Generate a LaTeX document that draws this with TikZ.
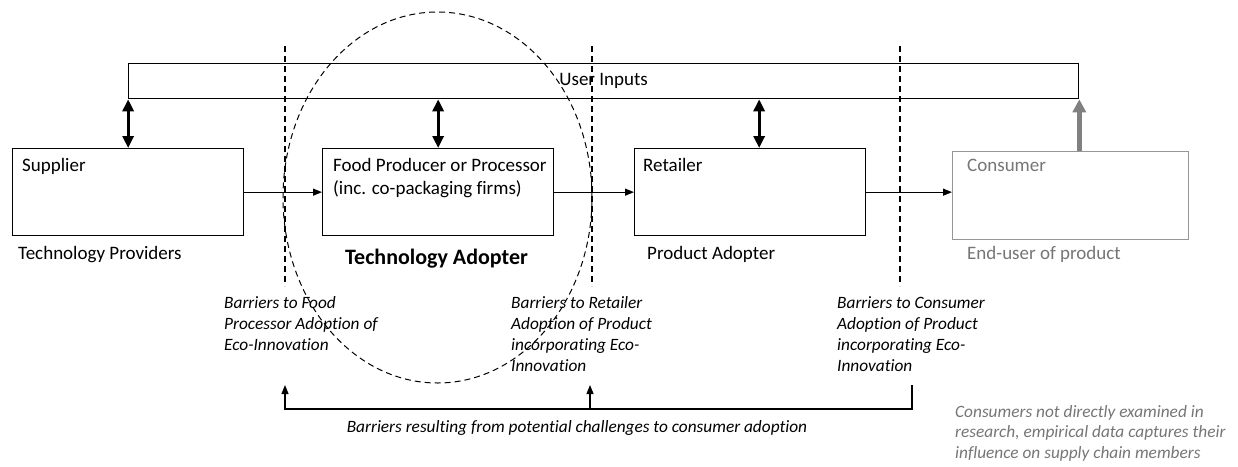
\documentclass[tikz,border=0pt]{standalone}
\usepackage{fontspec}
\setmainfont{Carlito}[Ligatures=NoCommon]
\usetikzlibrary{arrows.meta,shapes.geometric}
\definecolor{txtgray}{RGB}{118,118,118}
\definecolor{boxgray}{RGB}{150,150,150}
\definecolor{arrgray}{RGB}{128,128,128}
\newcommand{\mylines}[1]{\begin{tabular}[t]{@{}l@{}}#1\end{tabular}}
\begin{document}
\begin{tikzpicture}[x=1pt,y=-1pt,
  box/.style={draw, line width=1.3pt, minimum width=231pt, minimum height=87pt, anchor=north west, inner sep=0pt},
  lbl/.style={anchor=base west, inner sep=0pt, font=\fontsize{19}{23}\selectfont},
  barr/.style={anchor=base west, inner sep=0pt, font=\fontsize{17.3}{21.3}\selectfont\itshape},
  flow/.style={line width=1.2pt, -{Triangle[length=9pt,width=7pt]}},
  dbl/.style={line width=3pt, {Triangle[length=12pt,width=11pt]}-{Triangle[length=12pt,width=11pt]}},
  garrow/.style={line width=5pt, draw=arrgray, -{Triangle[length=13pt,width=13pt]}},
  vdash/.style={line width=1.1pt, dash pattern=on 6pt off 4pt},
]
\useasboundingbox[fill=white] (0,0) rectangle (1238,466);

% User inputs bar
\node[draw, line width=1.3pt, minimum width=950pt, minimum height=35pt, anchor=north west, inner sep=0pt,
      font=\fontsize{19}{23}\selectfont] (ui) at (128,63) {User Inputs};

% Boxes
\node[box] (sup) at (12,148) {};
\node[box] (food) at (322,148) {};
\node[box] (ret) at (634,148) {};
\node[box, draw=boxgray, minimum width=236pt, minimum height=88pt] (cons) at (952,151) {};

% Box texts
\node[lbl] (tsup) at (22,171) {Supplier};
\node[lbl] (tfood) at (333,171) {\mylines{Food Producer or Processor\\(inc. co-packaging firms)}};
\node[lbl] (tret) at (643,171) {Retailer};
\node[lbl, text=txtgray] (tcons) at (967,171) {Consumer};

% Role labels
\node[lbl] (rsup) at (18,259) {Technology Providers};
\node[lbl, font=\fontsize{22}{26}\selectfont\bfseries] (rfood) at (345,264) {Technology Adopter};
\node[lbl] (rret) at (647,259) {Product Adopter};
\node[lbl, text=txtgray] (rcons) at (967,259) {End-user of product};

% Flow arrows
\draw[flow] (sup.east) -- (food.west);
\draw[flow] (food.east) -- (ret.west);
\draw[flow] (ret.east |- sup.east) -- (cons.west |- sup.east);

% Double arrows to user inputs
\draw[dbl] (sup.north) -- (sup.north |- ui.south);
\draw[dbl] (food.north) -- (food.north |- ui.south);
\draw[dbl] ([xshift=9pt]ret.north) -- ([xshift=9pt]ret.north |- ui.south);
\draw[garrow] (ui.south east |- cons.north) -- (ui.south east);

% Adoption ellipse
\node[ellipse, draw, vdash, line width=1pt, minimum width=309pt, minimum height=371pt, inner sep=0pt] (adopt) at (437.5,197.5) {};

% Vertical dashed barrier lines
\coordinate (d1t) at (285,46);  \coordinate (d1b) at (285,286);
\coordinate (d2t) at (592,46);  \coordinate (d2b) at (592,286);
\coordinate (d3t) at (900,46);  \coordinate (d3b) at (900,286);
\draw[vdash] (d1t) -- (d1b);
\draw[vdash] (d2t) -- (d2b);
\draw[vdash] (d3t) -- (d3b);

% Barrier texts
\node[barr] (b1) at (224,308) {\mylines{Barriers to Food\\Processor Adoption of\\Eco-Innovation}};
\node[barr] (b2) at (511,308) {\mylines{Barriers to Retailer\\Adoption of Product\\incorporating Eco-\\Innovation}};
\node[barr] (b3) at (837,308) {\mylines{Barriers to Consumer\\Adoption of Product\\incorporating Eco-\\Innovation}};

% Bottom bracket
\coordinate (bl) at (285,385);
\coordinate (bm) at (590,385);
\coordinate (br) at (912,385);
\coordinate (yl) at (0,409);
\draw[flow] (br) -- (br |- yl) -- (bl |- yl) -- (bl);
\draw[flow] (bm |- yl) -- (bm);
\node[anchor=base, inner sep=0pt, font=\fontsize{17.3}{21}\selectfont\itshape] (bt) at (577,432) {Barriers resulting from potential challenges to consumer adoption};

% Note
\node[barr, text=txtgray, font=\fontsize{17.3}{20.5}\selectfont\itshape] (note) at (955,417) {\mylines{Consumers not directly examined in\\research, empirical data captures their\\influence on supply chain members}};
\end{tikzpicture}
\end{document}
